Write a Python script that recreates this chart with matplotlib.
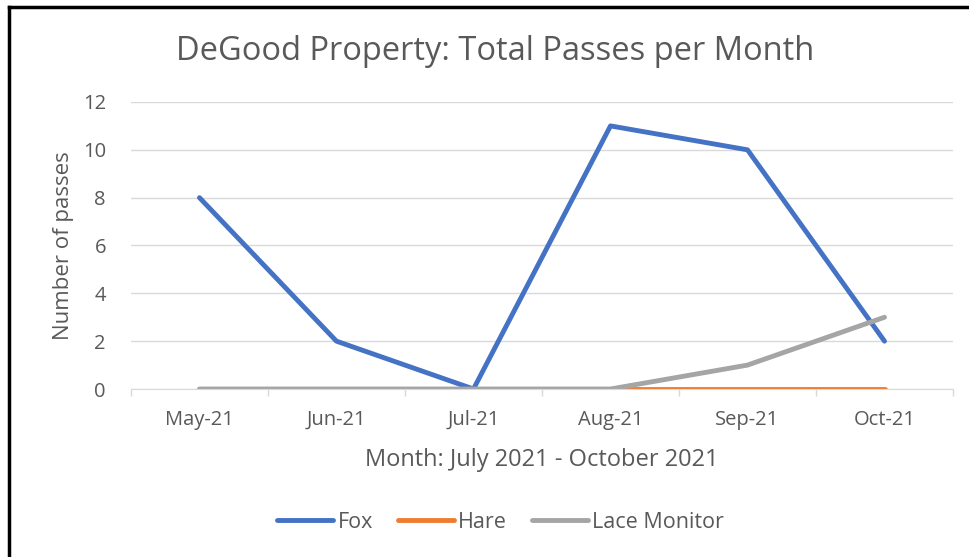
import matplotlib
matplotlib.use('Agg')

import numpy as np
import matplotlib.pyplot as plt
from matplotlib.lines import Line2D

# data
months = ['May-21', 'Jun-21', 'Jul-21', 'Aug-21', 'Sep-21', 'Oct-21']
fox = [8, 2, 0, 11, 10, 2]
hare = [0, 0, 0, 0, 0, 0]
lace_monitor = [0, 0, 0, 0, 1, 3]

plt.rcParams['font.family'] = ['Open Sans', 'DejaVu Sans']
text_grey = '#595959'

fig = plt.figure(figsize=(9.7, 5.57), dpi=100)
ax = fig.add_axes([0.135, 0.3016, 0.8475, 0.5153])

x = np.arange(len(months))
ax.plot(x, fox, color='#4472C4', lw=3.5, solid_capstyle='round', solid_joinstyle='round', label='Fox')
ax.plot(x, hare, color='#ED7D31', lw=3.5, solid_capstyle='round', solid_joinstyle='round', label='Hare')
ax.plot(x, lace_monitor, color='#A5A5A5', lw=3.5, solid_capstyle='round', solid_joinstyle='round', label='Lace Monitor')

ax.set_xlim(-0.5, len(months) - 0.5)
ax.set_ylim(0, 12)
ax.set_yticks(range(0, 13, 2))
ax.set_xticks(x)
ax.set_xticklabels(months)
ax.set_xticks(np.arange(-0.5, len(months)), minor=True)
ax.tick_params(axis='x', which='major', length=0, pad=15, labelsize=14.5, labelcolor=text_grey)
ax.tick_params(axis='x', which='minor', length=5, color='#D9D9D9', width=1)
ax.tick_params(axis='y', length=0, pad=18, labelsize=14.5, labelcolor=text_grey)

ax.grid(axis='y', color='#D9D9D9', lw=1)
ax.set_axisbelow(True)
for s in ['top', 'right', 'left']:
    ax.spines[s].set_visible(False)
ax.spines['bottom'].set_color('#D9D9D9')

fig.text(0.510, 1 - 51 / 557, 'DeGood Property: Total Passes per Month', fontsize=23.5,
         color=text_grey, ha='center', va='center')
ax.set_xlabel('Month: July 2021 - October 2021', fontsize=17, color=text_grey, labelpad=13)
ax.set_ylabel('Number of passes', fontsize=16, color=text_grey, labelpad=6)

fig.legend(loc='center', bbox_to_anchor=(0.516, 1 - 522 / 557), ncol=3, frameon=False,
           fontsize=15.5, labelcolor=text_grey, handlelength=2.6, handletextpad=0.2,
           columnspacing=1.15)

# border of the chart box (left and top only)
fig.add_artist(Line2D([9 / 970, 9 / 970], [0, 1 - 7 / 557], color='black', lw=2.5))
fig.add_artist(Line2D([9 / 970, 1], [1 - 7 / 557, 1 - 7 / 557], color='black', lw=2.5))

fig.savefig('out.png', dpi=100)
